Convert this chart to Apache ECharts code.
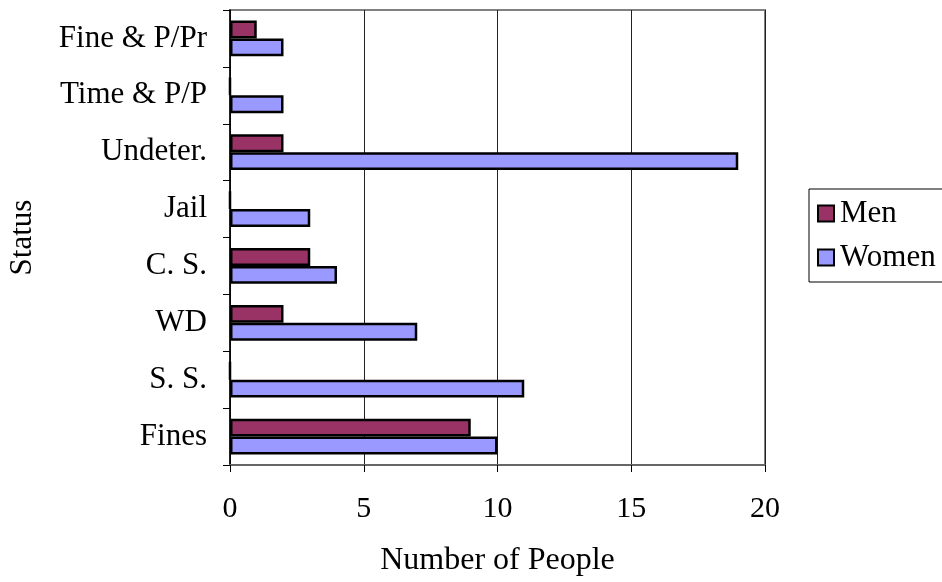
<!DOCTYPE html>
<html>
<head>
<meta charset="utf-8">
<script src="https://cdn.jsdelivr.net/npm/echarts@6/dist/echarts.min.js"></script>
<style>
  html, body { margin: 0; padding: 0; background: #fff; }
  #chart { width: 942px; height: 582px; }
</style>
</head>
<body>
<div id="chart"></div>
<script>
// data, bottom category first
const categories = ['Fines', 'S. S.', 'WD', 'C. S.', 'Jail', 'Undeter.', 'Time & P/P', 'Fine & P/Pr']
const menValues = [9, 0, 2, 3, 0, 2, 0, 1]
const womenValues = [10, 11, 7, 4, 3, 19, 2, 2]
const xTicks = [0, 5, 10, 15, 20]

const serif = 'Liberation Serif'
const myChart = echarts.init(document.getElementById('chart'))

const option = {
  animation: false,
  textStyle: { fontFamily: serif, color: '#000' },
  grid: {
    left: 230,
    right: 177,
    top: 10,
    bottom: 117,
    outerBoundsMode: 'none',
    containLabel: false,
    show: true,
    borderColor: '#808080',
    borderWidth: 2,
    backgroundColor: '#fff'
  },
  legend: {
    orient: 'vertical',
    left: 809,
    top: 189,
    padding: [9, 40, 9, 8],
    itemGap: 13,
    itemWidth: 16,
    itemHeight: 16,
    borderColor: '#000',
    borderWidth: 1,
    icon: 'rect',
    itemStyle: { borderColor: '#000', borderWidth: 2 },
    textStyle: { fontFamily: serif, fontSize: 31, color: '#000', padding: [0, 0, 0, 1] },
    data: ['Men', 'Women']
  },
  xAxis: {
    type: 'value',
    min: xTicks[0],
    max: xTicks[xTicks.length - 1],
    interval: xTicks[1] - xTicks[0],
    name: 'Number of People',
    nameLocation: 'middle',
    nameGap: 80,
    nameTextStyle: { fontFamily: serif, fontSize: 32, color: '#000' },
    axisLine: { show: true, lineStyle: { color: '#666', width: 2 } },
    axisTick: { show: true, length: 7, lineStyle: { color: '#000' } },
    axisLabel: { fontFamily: serif, fontSize: 30, color: '#000', margin: 29 },
    splitLine: { show: true, lineStyle: { color: '#222', width: 1 } }
  },
  yAxis: {
    type: 'category',
    data: categories,
    name: 'Status',
    nameLocation: 'middle',
    nameGap: 192,
    nameRotate: 90,
    nameTextStyle: { fontFamily: serif, fontSize: 31, color: '#000' },
    axisLine: { show: true, lineStyle: { color: '#000', width: 1.5 } },
    axisTick: { show: true, length: 7, alignWithLabel: false, lineStyle: { color: '#000' } },
    axisLabel: { fontFamily: serif, fontSize: 31, color: '#000', margin: 23 },
    splitLine: { show: false }
  },
  series: [
    {
      name: 'Men',
      type: 'bar',
      data: menValues,
      barGap: '0%',
      barCategoryGap: '37%',
      itemStyle: { color: '#993366', borderColor: '#000', borderWidth: 2.5 }
    },
    {
      name: 'Women',
      type: 'bar',
      data: womenValues,
      barGap: '0%',
      barCategoryGap: '37%',
      itemStyle: { color: '#9999FF', borderColor: '#000', borderWidth: 2.5 }
    }
  ]
}
myChart.setOption(option)
</script>
</body>
</html>
